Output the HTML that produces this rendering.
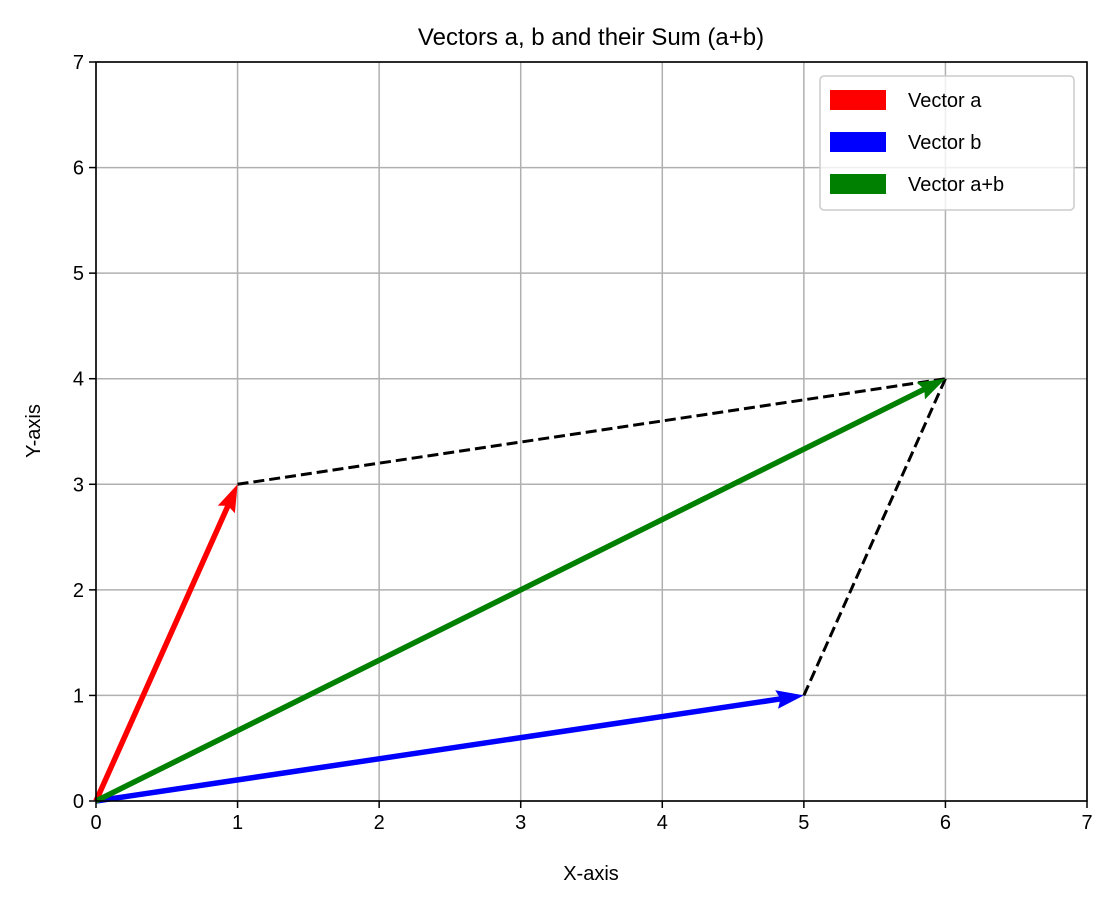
<!DOCTYPE html>
<html><head><meta charset="utf-8"><style>
body{margin:0;background:#fff}
svg text{font-family:"Liberation Sans","DejaVu Sans",sans-serif;fill:#000}
</style></head><body>
<svg id="chart" width="1117" height="908" xmlns="http://www.w3.org/2000/svg">
<rect width="1117" height="908" fill="#fff"/>
<g id="grid"></g>
<g id="dashes"></g>
<g id="arrows"></g>
<rect x="96" y="62" width="991" height="739" fill="none" stroke="#000" stroke-width="1.6"/>
<g id="ticks"></g>
<text x="591" y="45" font-size="24" text-anchor="middle">Vectors a, b and their Sum (a+b)</text>
<text x="591" y="880" font-size="20" text-anchor="middle">X-axis</text>
<text x="40" y="431" font-size="20" text-anchor="middle" transform="rotate(-90 40 431)">Y-axis</text>
<g>
<rect x="820" y="76" width="254" height="134" rx="4" fill="#fff" fill-opacity="0.8" stroke="#ccc" stroke-width="1.5"/>
<g id="legend-items"></g>
</g>
</svg>
<script>
const xTicks=[0,1,2,3,4,5,6,7];
const yTicks=[0,1,2,3,4,5,6,7];
const vecNames=["Vector a","Vector b","Vector a+b"];
const vecX0=[0,0,0], vecY0=[0,0,0];
const vecX1=[1,5,6], vecY1=[3,1,4];
const vecColors=["#ff0000","#0000ff","#008000"];
const dashX0=[1,5], dashY0=[3,1], dashX1=[6,6], dashY1=[4,4];
const NS="http://www.w3.org/2000/svg";
const sx=v=>96+v*(991/7), sy=v=>801-v*(739/7);
function mk(t,a,p){const e=document.createElementNS(NS,t);for(const k in a)e.setAttribute(k,a[k]);p.appendChild(e);return e;}
const grid=document.getElementById('grid'),ticks=document.getElementById('ticks');
xTicks.forEach(v=>{const x=sx(v);
 const g=mk('line',{x1:x,x2:x,y1:62,y2:801,stroke:'#b0b0b0','stroke-width':1.5},grid);
 
 const t=mk('line',{x1:x,x2:x,y1:801,y2:808,stroke:'#000','stroke-width':1.5},ticks);
 
 const l=mk('text',{x:x,y:829,'font-size':20,'text-anchor':'middle'},ticks);l.textContent=v;
 });
yTicks.forEach(v=>{const y=sy(v);
 const g=mk('line',{x1:96,x2:1087,y1:y,y2:y,stroke:'#b0b0b0','stroke-width':1.5},grid);
 
 const t=mk('line',{x1:89,x2:96,y1:y,y2:y,stroke:'#000','stroke-width':1.5},ticks);
 
 const l=mk('text',{x:84,y:y+7,'font-size':20,'text-anchor':'end'},ticks);l.textContent=v;
 });
const dg=document.getElementById('dashes');
dashX0.forEach((_,i)=>{const l=mk('line',{x1:sx(dashX0[i]),y1:sy(dashY0[i]),x2:sx(dashX1[i]),y2:sy(dashY1[i]),stroke:'#000','stroke-width':3,'stroke-dasharray':'11,5'},dg);
 });
const ag=document.getElementById('arrows');
const w=5.5;
vecNames.forEach((n,i)=>{const x0=sx(vecX0[i]),y0=sy(vecY0[i]),x1=sx(vecX1[i]),y1=sy(vecY1[i]);
 const dx=x1-x0,dy=y1-y0,L=Math.hypot(dx,dy),ux=dx/L,uy=dy/L,px=-uy,py=ux;
 const hl=5*w,ha=4.5*w,hw=1.7*w,sw=w/2;
 const pts=[[0,-sw],[L-ha,-sw],[L-hl,-hw],[L,0],[L-hl,hw],[L-ha,sw],[0,sw]].map(([a,b])=>(x0+ux*a+px*b)+','+(y0+uy*a+py*b)).join(' ');
 const p=mk('polygon',{points:pts,fill:vecColors[i]},ag);
 });
const lg=document.getElementById('legend-items');
vecNames.forEach((n,i)=>{const y=100+i*42;
 const r=mk('rect',{x:830,y:y-10,width:56,height:20,fill:vecColors[i]},lg);
 
 const t=mk('text',{x:908,y:y+7,'font-size':20},lg);t.textContent=n;
 });
</script>
</body></html>
